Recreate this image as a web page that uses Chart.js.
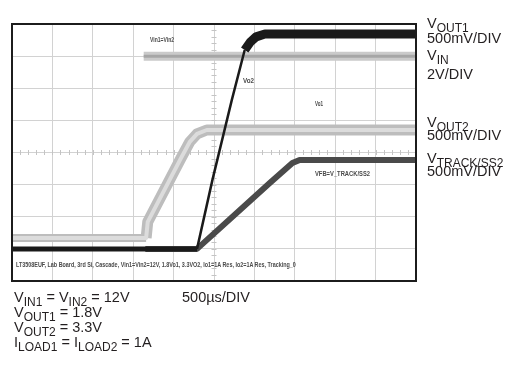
<!DOCTYPE html>
<html>
<head>
<meta charset="utf-8">
<script src="https://cdn.jsdelivr.net/npm/chart.js@4.4.0/dist/chart.umd.min.js"></script>
<style>
  html, body { margin: 0; padding: 0; background: #fff; }
  #wrap { position: relative; width: 507px; height: 369px; overflow: hidden;
          font-family: "Liberation Sans", Arial, sans-serif; color: #231f20; }
  #scope { position: absolute; left: 0; top: 0; }
  .lbl { position: absolute; font-size: 14.5px; line-height: 14.5px; white-space: nowrap; }
  .lbl sub { font-size: 12px; vertical-align: -3.5px; line-height: 0; }
  .note { position: absolute; font-size: 8px; line-height: 8px; white-space: nowrap;
          font-weight: bold; color: #4a4a4a; transform-origin: 0 50%; }
</style>
</head>
<body>
<div id="wrap">
  <canvas id="scope" width="507" height="369"></canvas>

  <!-- trace labels on the right -->
  <div class="lbl" style="left:427px; top:16px;">V<sub>OUT1</sub></div>
  <div class="lbl" style="left:427px; top:31px;">500mV/DIV</div>
  <div class="lbl" style="left:427px; top:48px;">V<sub>IN</sub></div>
  <div class="lbl" style="left:427px; top:67px;">2V/DIV</div>
  <div class="lbl" style="left:427px; top:115px;">V<sub>OUT2</sub></div>
  <div class="lbl" style="left:427px; top:128px;">500mV/DIV</div>
  <div class="lbl" style="left:427px; top:151px;">V<sub>TRACK/SS2</sub></div>
  <div class="lbl" style="left:427px; top:164px;">500mV/DIV</div>

  <!-- test conditions below the screen -->
  <div class="lbl" style="left:14px; top:290px;">V<sub>IN1</sub> = V<sub>IN2</sub> = 12V</div>
  <div class="lbl" style="left:182px; top:290px;">500µs/DIV</div>
  <div class="lbl" style="left:14px; top:305px;">V<sub>OUT1</sub> = 1.8V</div>
  <div class="lbl" style="left:14px; top:320px;">V<sub>OUT2</sub> = 3.3V</div>
  <div class="lbl" style="left:14px; top:335px;">I<sub>LOAD1</sub> = I<sub>LOAD2</sub> = 1A</div>

  <!-- scope screen annotations -->
  <div class="note" data-w="24" style="left:150px; top:36px;">Vin1=Vin2</div>
  <div class="note" data-w="11" style="left:243px; top:77px;">Vo2</div>
  <div class="note" data-w="8" style="left:315px; top:100px;">Vo1</div>
  <div class="note" data-w="55" style="left:315px; top:170px;">VFB=V_TRACK/SS2</div>
  <div class="note" data-w="280" style="left:16px; top:261px;">LT3508EUF, Lab Board, 3rd Si, Cascade, Vin1=Vin2=12V, 1.8Vo1, 3.3VO2, Io1=1A Res, Io2=1A Res, Tracking_0</div>
</div>

<script>
/* ============================
   Trace data
   time in ms (500us/DIV), level in screen divisions (0 = bottom)
============================ */
const timeVout1 = [0, 2.29, 2.48, 2.72, 2.88, 2.95, 3.02, 3.13, 5.0];
const divVout1  = [1.00, 1.00, 3.14, 5.63, 7.19, 7.44, 7.60, 7.69, 7.69];

const timeVin = [1.63, 5.0];
const divVin  = [7.00, 7.00];

const timeVout2 = [0, 1.66, 1.68, 2.08, 2.20, 2.29, 2.41, 5.0];
const divVout2  = [1.34, 1.34, 1.84, 3.77, 4.33, 4.58, 4.70, 4.70];

const timeTrack = [1.65, 2.29, 3.19, 3.47, 3.56, 5.0];
const divTrack  = [1.00, 1.00, 3.05, 3.67, 3.77, 3.77];

const toPoints = (xs, ys) => xs.map((x, i) => ({ x: x, y: ys[i] }));

/* ============================
   Screen decoration: centre ticks + frame
============================ */
const scopeDecor = {
    id: 'scopeDecor',
    beforeDatasetsDraw(chart) {
        const { ctx, scales } = chart;
        const xs = scales.x, ys = scales.y;
        const cy = ys.getPixelForValue(4);
        const cx = xs.getPixelForValue(2.5);
        ctx.save();
        ctx.strokeStyle = '#c4c4c4';
        ctx.lineWidth = 1;
        ctx.beginPath();
        for (let t = 0; t <= 5.001; t += 0.1) {
            const px = Math.round(xs.getPixelForValue(t)) + 0.5;
            ctx.moveTo(px, cy - 2.5);
            ctx.lineTo(px, cy + 2.5);
        }
        for (let d = 0; d <= 8.001; d += 0.2) {
            const py = Math.round(ys.getPixelForValue(d)) + 0.5;
            ctx.moveTo(cx - 2.5, py);
            ctx.lineTo(cx + 2.5, py);
        }
        ctx.stroke();
        ctx.restore();
    },
    afterDatasetsDraw(chart) {
        const { ctx, chartArea } = chart;
        ctx.save();
        ctx.strokeStyle = '#1c1c1c';
        ctx.lineWidth = 2;
        ctx.strokeRect(chartArea.left, chartArea.top,
            chartArea.right - chartArea.left, chartArea.bottom - chartArea.top);
        ctx.restore();
    }
};

// black trace: the fast edge is drawn thin, the settled levels thick
const vout1Width = ctx => {
    const dx = Math.abs(ctx.p1.x - ctx.p0.x) || 0.01;
    const dy = Math.abs(ctx.p1.y - ctx.p0.y);
    if (dy / dx > 2.5) return 2.5;
    return ctx.p0.parsed.y > 4 ? 9 : 5;
};

// grey trace is thinner before the start-up step
const vout2Width = ctx => (ctx.p1.parsed.x < 1.67 ? 8 : 11);

const lineBase = {
    pointRadius: 0,
    tension: 0,
    fill: false,
    borderJoinStyle: 'round',
    borderCapStyle: 'butt'
};

new Chart(document.getElementById('scope').getContext('2d'), {
    type: 'line',
    data: {
        datasets: [
            { ...lineBase, label: 'VOUT1', data: toPoints(timeVout1, divVout1),
              borderColor: '#1a1a1a', borderWidth: 9, order: 1,
              segment: { borderWidth: vout1Width } },
            { ...lineBase, label: 'VTRACK/SS2', data: toPoints(timeTrack, divTrack),
              borderColor: '#4a4a4a', borderWidth: 6, order: 2 },
            { ...lineBase, label: 'VOUT2 core', data: toPoints(timeVout2, divVout2),
              borderColor: '#dcdcdc', borderWidth: 4, order: 3 },
            { ...lineBase, label: 'VOUT2', data: toPoints(timeVout2, divVout2),
              borderColor: '#bdbdbd', borderWidth: 11, order: 4,
              segment: { borderWidth: vout2Width } },
            { ...lineBase, label: 'VIN core', data: toPoints(timeVin, divVin),
              borderColor: '#a6a6a6', borderWidth: 3, order: 5 },
            { ...lineBase, label: 'VIN', data: toPoints(timeVin, divVin),
              borderColor: '#cacaca', borderWidth: 9, order: 6 }
        ]
    },
    options: {
        responsive: false,
        animation: false,
        devicePixelRatio: 1,
        layout: { padding: { left: 12, top: 24, right: 91, bottom: 88 } },
        plugins: { legend: { display: false }, tooltip: { enabled: false } },
        scales: {
            x: {
                type: 'linear', min: 0, max: 5,
                ticks: { display: false, stepSize: 0.5 },
                grid: { color: '#d2d2d2', lineWidth: 1, drawTicks: false },
                border: { display: false }
            },
            y: {
                type: 'linear', min: 0, max: 8,
                ticks: { display: false, stepSize: 1 },
                grid: { color: '#d2d2d2', lineWidth: 1, drawTicks: false },
                border: { display: false }
            }
        }
    },
    plugins: [scopeDecor]
});

// squeeze the tiny scope annotations to their width on screen
document.querySelectorAll('.note').forEach(el => {
    const target = parseFloat(el.dataset.w);
    const w = el.getBoundingClientRect().width;
    if (w > 0) el.style.transform = 'scaleX(' + (target / w).toFixed(3) + ')';
});
</script>
</body>
</html>
